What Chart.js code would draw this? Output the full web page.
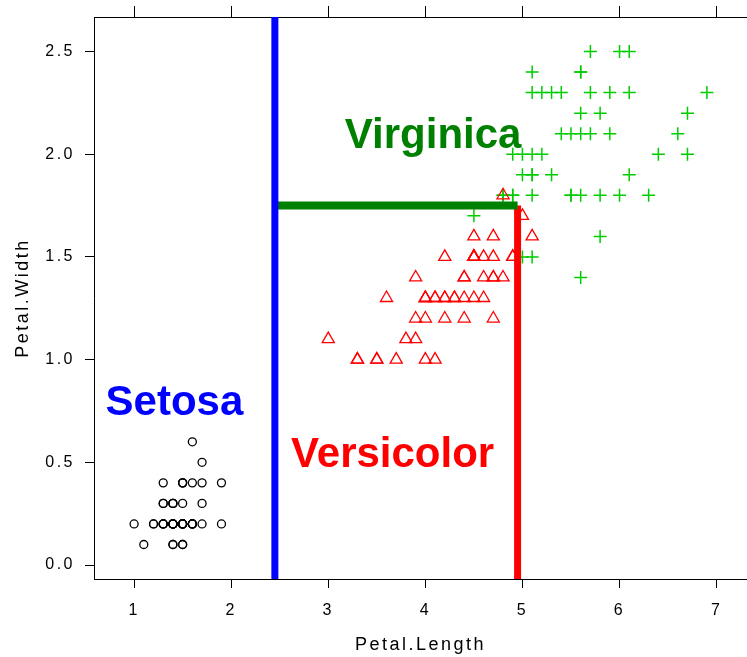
<!DOCTYPE html>
<html>
<head>
<meta charset="utf-8">
<script src="https://cdn.jsdelivr.net/npm/chart.js@4"></script>
<style>
  html, body { margin: 0; padding: 0; background: #fff; }
  canvas { display: block; }
</style>
</head>
<body>
<canvas id="c" width="747" height="657"></canvas>
<script>
// ---- Data (iris: Petal.Length / Petal.Width by species) ----
const setosaLength = [1.4,1.4,1.3,1.5,1.4,1.7,1.4,1.5,1.4,1.5,1.5,1.6,1.4,1.1,1.2,1.5,1.3,1.4,1.7,1.5,1.7,1.5,1.0,1.7,1.9,1.6,1.6,1.5,1.4,1.6,1.6,1.5,1.5,1.4,1.5,1.2,1.3,1.4,1.3,1.5,1.3,1.3,1.3,1.6,1.9,1.4,1.6,1.4,1.5,1.4];
const setosaWidth  = [0.2,0.2,0.2,0.2,0.2,0.4,0.3,0.2,0.2,0.1,0.2,0.2,0.1,0.1,0.2,0.4,0.4,0.3,0.3,0.3,0.2,0.4,0.2,0.5,0.2,0.2,0.4,0.2,0.2,0.2,0.2,0.4,0.1,0.2,0.2,0.2,0.2,0.1,0.2,0.2,0.3,0.3,0.2,0.6,0.4,0.3,0.2,0.2,0.2,0.2];
const versicolorLength = [4.7,4.5,4.9,4.0,4.6,4.5,4.7,3.3,4.6,3.9,3.5,4.2,4.0,4.7,3.6,4.4,4.5,4.1,4.5,3.9,4.8,4.0,4.9,4.7,4.3,4.4,4.8,5.0,4.5,3.5,3.8,3.7,3.9,5.1,4.5,4.5,4.7,4.4,4.1,4.0,4.4,4.6,4.0,3.3,4.2,4.2,4.2,4.3,3.0,4.1];
const versicolorWidth  = [1.4,1.5,1.5,1.3,1.5,1.3,1.6,1.0,1.3,1.4,1.0,1.5,1.0,1.4,1.3,1.4,1.5,1.0,1.5,1.1,1.8,1.3,1.5,1.2,1.3,1.4,1.4,1.7,1.5,1.0,1.1,1.0,1.2,1.6,1.5,1.6,1.5,1.3,1.3,1.3,1.2,1.4,1.2,1.0,1.3,1.2,1.3,1.3,1.1,1.3];
const virginicaLength = [6.0,5.1,5.9,5.6,5.8,6.6,4.5,6.3,5.8,6.1,5.1,5.3,5.5,5.0,5.1,5.3,5.5,6.7,6.9,5.0,5.7,4.9,6.7,4.9,5.7,6.0,4.8,4.9,5.6,5.8,6.1,6.4,5.6,5.1,5.6,6.1,5.6,5.5,4.8,5.4,5.6,5.1,5.1,5.9,5.7,5.2,5.0,5.2,5.4,5.1];
const virginicaWidth  = [2.5,1.9,2.1,1.8,2.2,2.1,1.7,1.8,1.8,2.5,2.0,1.9,2.1,2.0,2.4,2.3,1.8,2.2,2.3,1.5,2.3,2.0,2.0,1.8,2.1,1.8,1.8,1.8,2.1,1.6,1.9,2.0,2.2,1.5,1.4,2.3,2.4,1.8,1.8,2.1,2.4,2.3,1.9,2.3,2.5,2.3,1.9,2.0,2.3,1.8];

// split thresholds of the tree
const splitLength1 = 2.45;
const splitWidth   = 1.75;
const splitLength2 = 4.95;

// axis ranges & ticks
const xMin = 0.587, xMax = 7.313;
const yMin = -0.068, yMax = 2.668;
const xTicks = [1, 2, 3, 4, 5, 6, 7];
const yTicks = [0.0, 0.5, 1.0, 1.5, 2.0, 2.5];

// region labels
const labelTexts  = ['Setosa', 'Versicolor', 'Virginica'];
const labelX      = [1.415, 3.663, 4.08];
const labelY      = [0.732, 0.479, 2.031];
const labelColors = ['#0000FF', '#FF0000', '#008000'];

const zip = (xs, ys) => xs.map((x, i) => ({ x: x, y: ys[i] }));

Chart.defaults.font.family = "'Liberation Sans', Arial, sans-serif";
Chart.defaults.color = '#000';

const spacingPlugin = {
  id: 'spacingAndLabels',
  beforeDraw(chart) {
    chart.ctx.letterSpacing = '2.5px';
  },
  afterDraw(chart) {
    const ctx = chart.ctx;
    const xs = chart.scales.x, ys = chart.scales.y;
    ctx.save();
    ctx.letterSpacing = '0px';
    ctx.font = "bold 42px 'Liberation Sans', Arial, sans-serif";
    ctx.textAlign = 'center';
    ctx.textBaseline = 'alphabetic';
    labelTexts.forEach((t, i) => {
      ctx.fillStyle = labelColors[i];
      ctx.fillText(t, xs.getPixelForValue(labelX[i]), ys.getPixelForValue(labelY[i]));
    });
    ctx.restore();
  }
};

const tickSetter = vals => scale => { scale.ticks = vals.map(v => ({ value: v })); };
const fitter = (w, h) => s => {
  if (w !== null) s.width = w;
  if (h !== null) s.height = h;
  s.paddingLeft = 0; s.paddingRight = 0; s.paddingTop = 0; s.paddingBottom = 0;
};

new Chart(document.getElementById('c'), {
  type: 'scatter',
  data: {
    datasets: [
      {
        data: [{ x: splitLength1, y: yMin }, { x: splitLength1, y: yMax }],
        showLine: true, borderColor: '#0000FF', borderWidth: 7, pointRadius: 0, order: 0
      },
      {
        data: [{ x: splitLength1, y: splitWidth }, { x: splitLength2, y: splitWidth }],
        showLine: true, borderColor: '#008000', borderWidth: 8, pointRadius: 0, order: 0
      },
      {
        data: [{ x: splitLength2, y: yMin }, { x: splitLength2, y: splitWidth }],
        showLine: true, borderColor: '#FF0000', borderWidth: 7, pointRadius: 0, order: 0
      },
      {
        data: zip(setosaLength, setosaWidth),
        pointStyle: 'circle', pointRadius: 4, pointBorderWidth: 1.3,
        borderColor: '#000000', backgroundColor: 'rgba(0,0,0,0)', order: 1
      },
      {
        data: zip(versicolorLength, versicolorWidth),
        pointStyle: 'triangle', pointRadius: 7, pointBorderWidth: 1.3,
        borderColor: '#FF0000', backgroundColor: 'rgba(0,0,0,0)', order: 1
      },
      {
        data: zip(virginicaLength, virginicaWidth),
        pointStyle: 'cross', pointRadius: 6.5, pointBorderWidth: 1.5,
        borderColor: '#00CD00', backgroundColor: 'rgba(0,0,0,0)', order: 1
      }
    ]
  },
  options: {
    responsive: false,
    animation: false,
    events: [],
    layout: { padding: 0, autoPadding: false },
    plugins: { legend: { display: false }, tooltip: { enabled: false } },
    scales: {
      x: {
        type: 'linear', position: 'bottom', min: xMin, max: xMax,
        afterBuildTicks: tickSetter(xTicks),
        afterFit: fitter(null, 78),
        grid: { drawOnChartArea: false, drawTicks: true, tickLength: 9, color: '#000', lineWidth: 1 },
        border: { display: true, color: '#000', width: 1 },
        ticks: { color: '#000', font: { size: 16 }, padding: 13, autoSkip: false, maxRotation: 0,
                 callback: v => String(v) },
        title: { display: true, text: 'Petal.Length', color: '#000', font: { size: 18 }, padding: { top: 0, bottom: 1 } }
      },
      x2: {
        type: 'linear', position: 'top', min: xMin, max: xMax,
        afterBuildTicks: tickSetter(xTicks),
        afterFit: fitter(null, 17),
        grid: { drawOnChartArea: false, drawTicks: true, tickLength: 11, color: '#000', lineWidth: 1 },
        border: { display: true, color: '#000', width: 1 },
        ticks: { display: false }
      },
      y: {
        type: 'linear', position: 'left', min: yMin, max: yMax,
        afterBuildTicks: tickSetter(yTicks),
        afterFit: fitter(94, null),
        grid: { drawOnChartArea: false, drawTicks: true, tickLength: 9, color: '#000', lineWidth: 1 },
        border: { display: true, color: '#000', width: 1 },
        ticks: { color: '#000', font: { size: 16 }, padding: 10, autoSkip: false,
                 callback: v => Number(v).toFixed(1) },
        title: { display: true, text: 'Petal.Width', color: '#000', font: { size: 18 }, padding: { top: 12, bottom: 0 } }
      }
    }
  },
  plugins: [spacingPlugin]
});
</script>
</body>
</html>
